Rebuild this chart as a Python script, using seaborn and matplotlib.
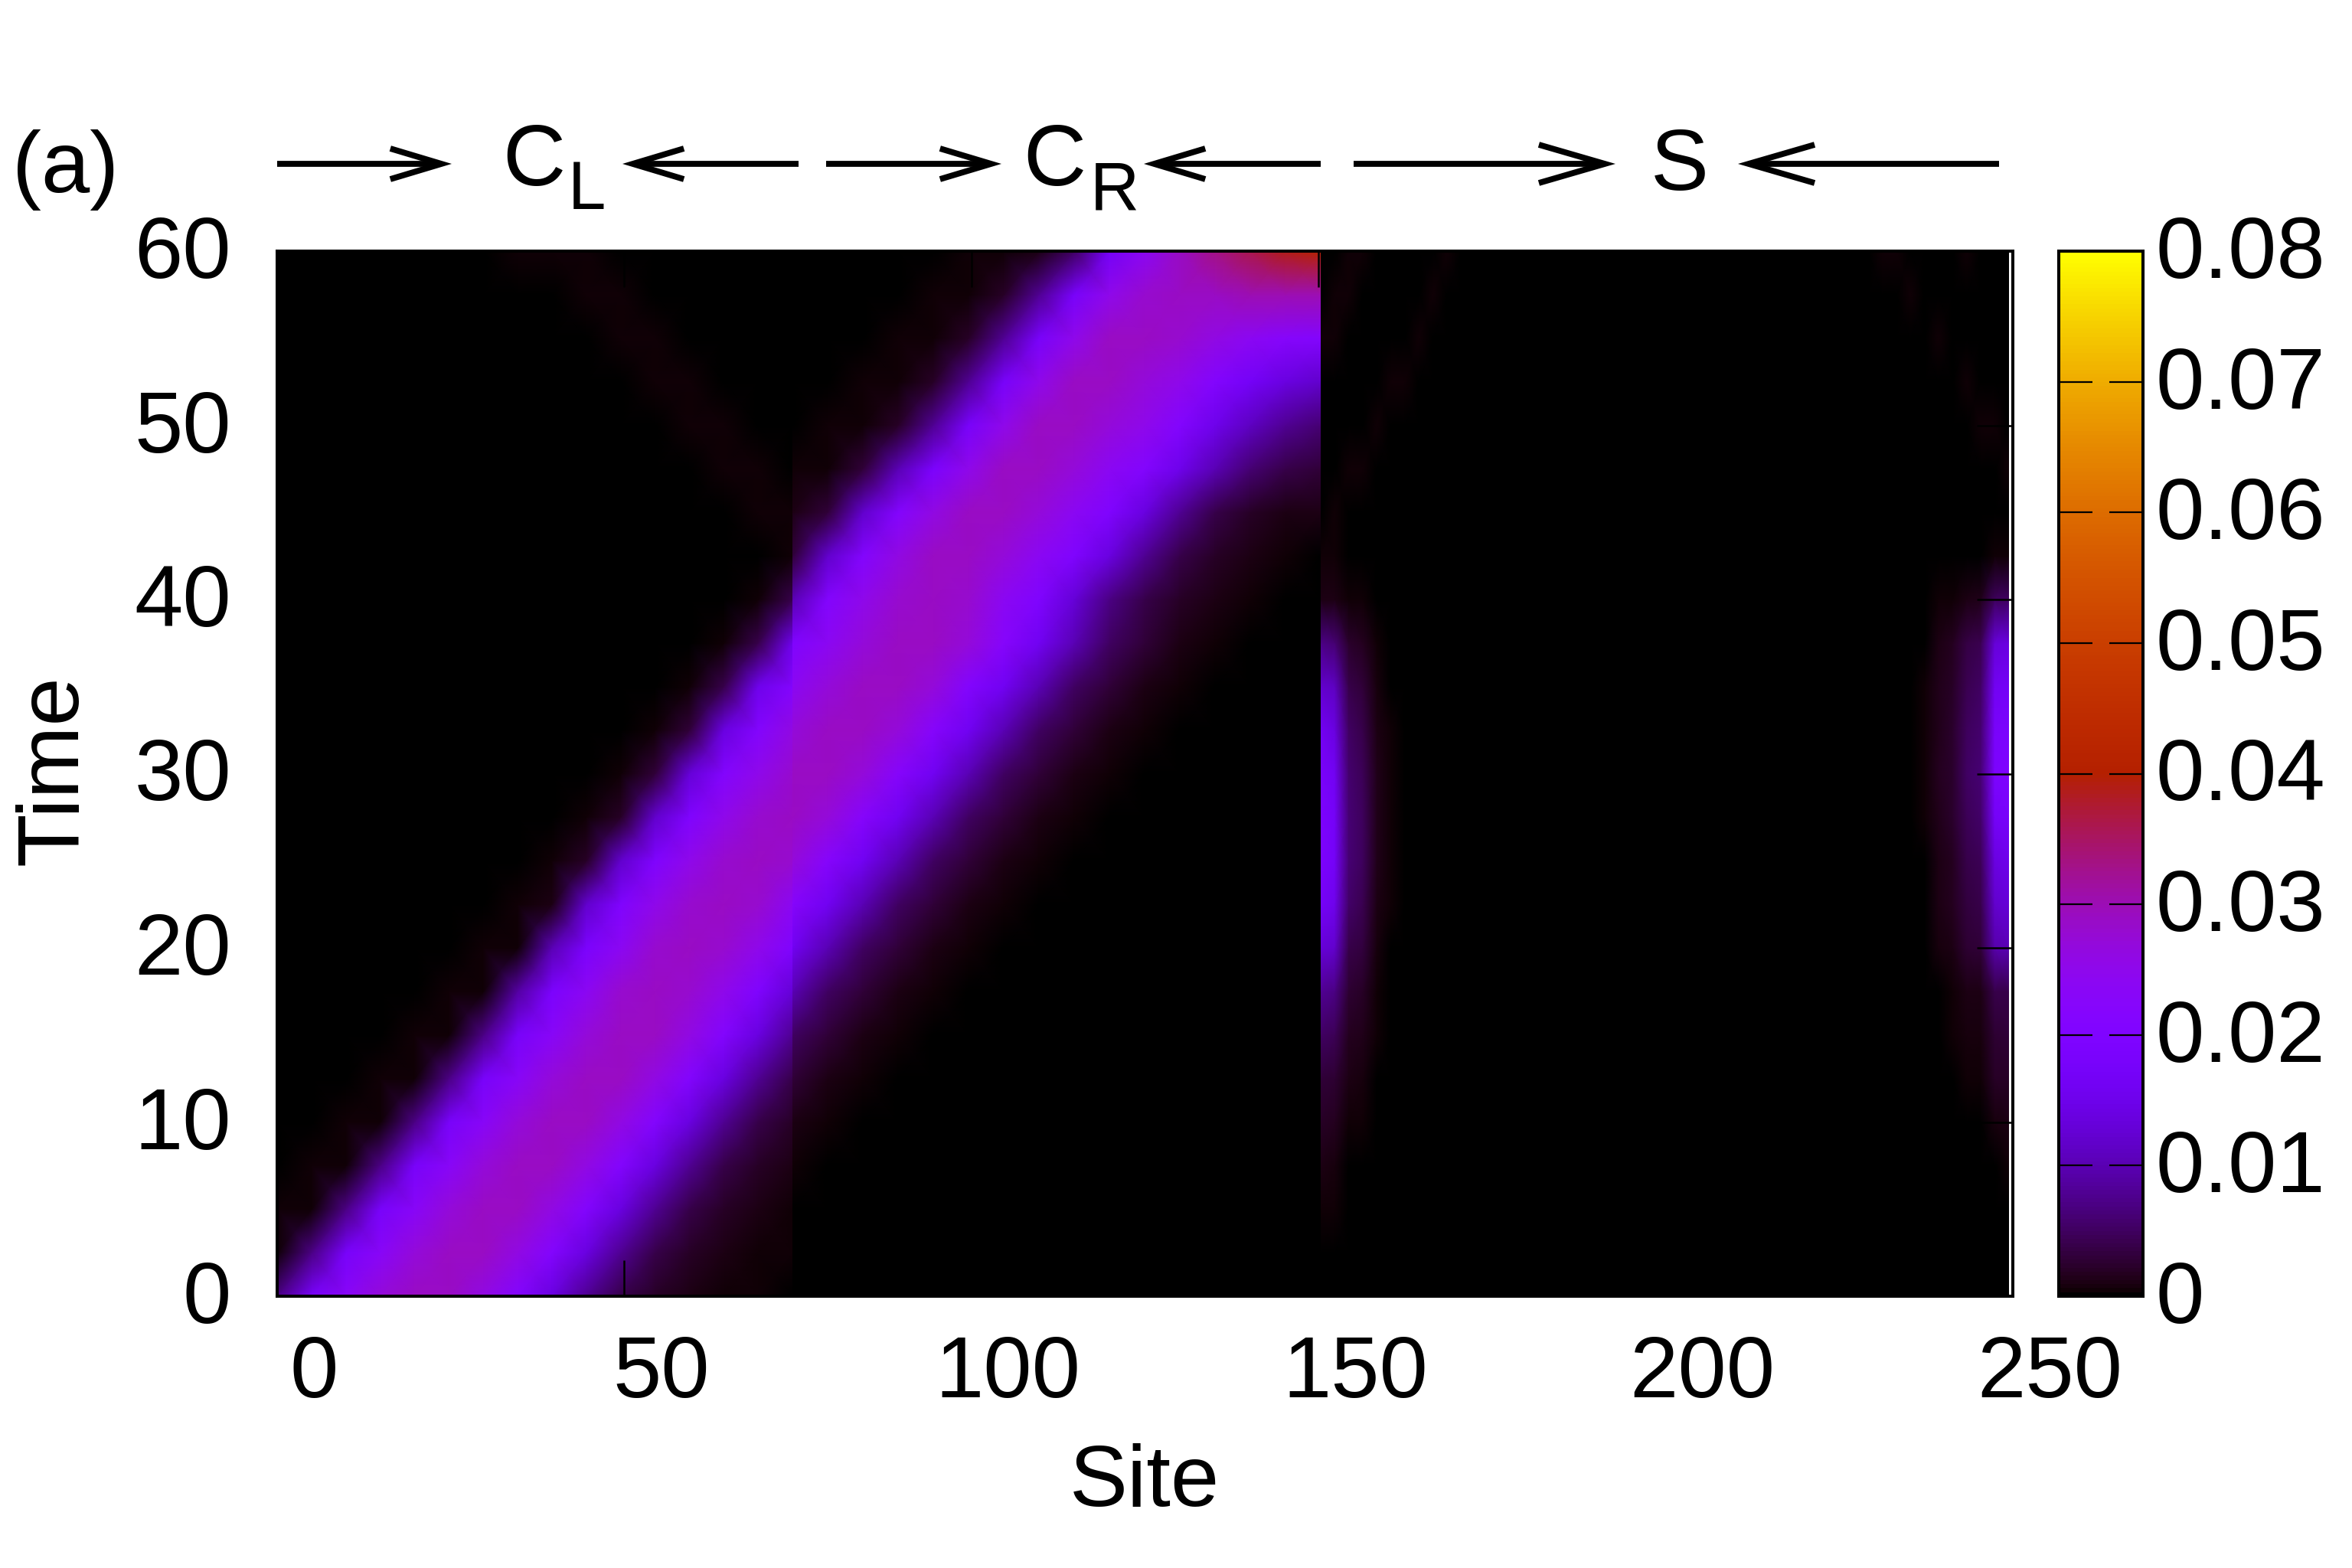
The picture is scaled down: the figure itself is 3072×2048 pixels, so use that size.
import numpy as np
import matplotlib
matplotlib.use('Agg')
import matplotlib.pyplot as plt
from matplotlib.transforms import ScaledTranslation
import seaborn as sns

# values, in units of 0.001, one row per 2.5 time units (t=0 first)
# sites 0 to 74
band_left = [
    [7,18,23,27,29,29,26,21,14,8,4,2,1,.6,.4,.3],
    [.4,7,18,23,27,29,29,26,21,14,8,4,2,1,.6,.4],
    [.6,.4,7,18,23,27,29,29,26,21,14,8,4,2,1,.6],
    [.3,.6,.4,7,18,23,27,29,29,26,21,14,8,4,2,1],
    [0,.3,.6,.4,7,18,23,27,29,29,26,21,14,8,4,2],
    [0,0,.3,.6,.4,7,18,23,27,29,29,26,21,14,8,4],
    [0,0,0,.3,.6,.4,7,18,23,27,29,29,26,21,14,8],
    [0,0,0,0,.3,.6,.5,9,19,24,28,29,28,25,20,13],
    [0,0,0,0,0,.3,.6,.5,10,19,24,28,29,28,25,20],
    [0,0,0,0,0,0,.3,.6,1,12,20,25,28,29,28,24],
    [0,0,0,0,0,0,0,.3,.6,2,12,20,25,28,29,28],
    [0,0,0,0,0,0,0,0,.3,.6,2,12,20,25,28,29],
    [0,0,0,0,0,0,0,0,0,.3,.6,3,13,21,25,28],
    [0,0,0,0,0,0,0,0,0,0,.3,.6,3,14,21,26],
    [0,0,0,0,0,0,0,0,0,0,0,.3,.6,4,15,21],
    [0,0,0,0,0,0,0,0,0,0,0,0,.3,.6,4,15],
    [0,0,0,0,0,0,0,0,0,0,0,0,0,.3,.6,4],
    [0,0,0,0,0,0,0,0,0,0,0,0,0,0,.3,.6],
    [0,0,0,0,0,0,0,0,0,0,0,0,0,0,.4,.6],
    [0,0,0,0,0,0,0,0,0,0,0,0,0,.4,.6,.3],
    [0,0,0,0,0,0,0,0,0,0,0,0,.4,.6,.3,0],
    [0,0,0,0,0,0,0,0,0,0,0,.4,.6,.3,0,0],
    [0,0,0,0,0,0,0,0,0,0,.4,.6,.3,0,0,0],
    [0,0,0,0,0,0,0,0,0,.4,.6,.3,0,0,0,0],
    [0,0,0,0,0,0,0,.4,.6,.6,.3,0,0,0,0,0],
]
# sites 74 to 150
band_mid = [
    [0,0,0,0,0,0,0,0,0,0,0,0,0,0,0,0],
    [.1,0,0,0,0,0,0,0,0,0,0,0,0,0,0,0],
    [.3,.1,0,0,0,0,0,0,0,0,0,0,0,0,0,0],
    [.6,.3,.1,0,0,0,0,0,0,0,0,0,0,0,0,0],
    [1,.6,.3,.1,0,0,0,0,0,0,0,0,0,0,0,0],
    [3,1,.6,.3,.1,0,0,0,0,0,0,0,0,0,0,0],
    [5,3,1,.6,.3,.1,0,0,0,0,0,0,0,0,0,0],
    [10,5,3,1,.6,.3,.1,0,0,0,0,0,0,0,0,0],
    [16,10,5,3,1,.6,.3,.1,0,0,0,0,0,0,0,0],
    [22,16,10,5,3,1,.6,.3,.1,0,0,0,0,0,0,0],
    [27,22,16,10,5,3,1,.6,.3,.1,0,0,0,0,0,0],
    [29,27,22,16,10,5,3,1,.6,.3,.1,0,0,0,0,0],
    [29,29,27,22,16,10,5,3,1,.6,.3,.1,0,0,0,0],
    [27,29,29,27,22,16,10,5,3,1,.6,.3,.1,0,0,0],
    [24,27,29,29,27,21,16,10,5,3,1,.6,.3,.1,0,0],
    [20,24,27,29,29,27,22,16,10,5,3,1,.6,.3,.1,0],
    [10,21,25,28,29,28,24,20,13,7,4,2,1,.6,.3,.1],
    [3,12,21,26,29,29,27,24,20,14,8,4,2,1,.6,.3],
    [1,3,12,21,26,29,29,27,24,20,14,8,4,2,1,1],
    [.6,.4,3,10,19,25,29,29,27,24,21,15,10,6,4,3],
    [.3,.6,.4,2,8,18,25,29,29,27,25,21,15,11,8,6],
    [0,.3,.6,.4,2,8,18,25,29,29,27,25,21,17,14,12],
    [0,0,.3,.6,.4,2,8,18,25,29,29,28,26,24,22,21],
    [0,0,0,.3,.6,.4,2,8,18,25,28,29,29,30,30,30],
    [0,0,0,0,.3,.6,.4,1,5,17,24,29,33,36,39,41],
]
# first 10 columns right of the barrier at site 150, every 2 sites
barrier_near = [
    [0,0,0,0,0,0,0,0,0,0],
    [.3,.2,0,0,0,0,0,0,0,0],
    [.6,.5,0,0,0,0,0,0,0,0],
    [1,.9,.3,.2,0,0,0,0,0,0],
    [2,1.8,.6,.5,.1,0,0,0,0,0],
    [3,2.7,1,.8,.2,0,0,0,0,0],
    [5,4.5,1.6,1.3,.4,0,0,0,0,0],
    [8,7,2.6,2,.6,0,0,0,0,0],
    [13,12,4,3.2,.9,.3,0,0,0,0],
    [17,15,5.4,4.2,1.2,.4,0,0,0,0],
    [19,17,6,4.8,1.3,.5,0,0,0,0],
    [19,17,6,4.8,1.3,.5,0,0,0,0],
    [18,16,5.8,4.5,1.3,.5,0,0,0,0],
    [16,14,5,4,1.1,.4,0,0,0,0],
    [12,11,3.8,3,.8,.3,0,0,0,0],
    [7,6,2.2,1.8,.5,0,0,0,0,0],
    [1,1,.6,.5,0,0,0,0,0,0],
    [.6,.6,.2,0,0,0,0,0,0,0],
    [.3,.6,.3,0,0,0,0,0,0,0],
    [0,.3,.6,.6,.3,0,0,0,0,0],
    [0,0,0,.3,.6,.3,0,0,0,0],
    [.3,0,0,0,.3,.6,.6,.3,0,0],
    [.5,.4,0,0,0,0,.3,.6,.3,0],
    [0,.5,.4,0,0,0,0,.3,.6,.3],
    [0,.3,.6,.5,.3,0,0,0,.3,.6],
]
# last 10 columns before the right end at site 249, every 2 sites
edge_far = [
    [0,0,0,0,0,0,0,0,0,0],
    [0,0,0,0,0,0,0,0,0,0],
    [0,0,0,0,0,0,0,0,0,0],
    [0,0,0,0,0,0,0,0,.3,.4],
    [0,0,0,0,0,.1,.2,.3,.9,1],
    [0,0,0,0,.1,.2,.5,.6,1.9,2],
    [0,0,0,0,.2,.4,.8,.9,2.8,3],
    [0,0,0,0,.3,.5,1,1.2,3.8,4],
    [0,0,0,0,.8,1.2,2.5,3,9.5,10],
    [0,0,0,0,1,1.6,3.2,3.9,12,13],
    [0,0,0,.3,1.2,1.8,3.8,4.5,14,15],
    [0,0,0,.4,1.4,2.2,4.5,5.4,17,18],
    [0,0,0,.4,1.6,2.4,5,6,19,20],
    [0,0,0,.4,1.5,2.3,4.8,5.7,18,19],
    [0,0,0,.4,1.4,2,4.2,5.1,16,17],
    [0,0,0,.3,1.1,1.7,3.5,4.2,13,14],
    [0,0,0,0,.4,.6,1.2,1.5,4.8,5],
    [0,0,0,0,0,0,.2,.3,.6,.6],
    [0,0,0,0,0,0,0,0,0,0],
    [0,0,0,0,0,0,0,0,.3,.6],
    [0,0,0,0,0,0,.3,.6,.6,.2],
    [0,0,0,0,0,.3,.6,.3,0,0],
    [0,0,0,.3,.6,.3,0,0,0,.2],
    [0,.3,.6,.3,0,0,0,.3,.3,.2],
    [.5,.6,.3,0,0,.3,.4,.2,0,0],
]
x_ticks = [0, 50, 100, 150, 200, 250]
y_ticks = [0, 10, 20, 30, 40, 50, 60]
cb_ticks = [0, 0.01, 0.02, 0.03, 0.04, 0.05, 0.06, 0.07, 0.08]
cb_labels = ['0', '0.01', '0.02', '0.03', '0.04', '0.05', '0.06', '0.07', '0.08']

# section edges in sites: the picture has sharp jumps at 74 and 150
step_site = 74.2
barrier_site = 150.3
end_site = 249.4

W, H = 3072, 2048
FS = 41

sns.set_theme(style='ticks')
plt.rcParams['font.family'] = ['Liberation Sans', 'DejaVu Sans']
plt.rcParams['axes.axisbelow'] = False  # ticks stay on top of the colours


def fx(px):
    return px / W


def fy(py):
    return 1 - py / H


fig = plt.figure(figsize=(W / 200, H / 200), dpi=200, facecolor='white')
ax = fig.add_axes([fx(362), fy(1693), fx(2629) - fx(362), fy(328) - fy(1693)])
cax = fig.add_axes([fx(2689), fy(1693), fx(2799) - fx(2689), fy(328) - fy(1693)])

ax.set_facecolor('white')
ax.set_xlim(0, 250)
ax.set_ylim(0, 60)

# right of the barrier: only the two edges carry signal, the middle stays empty
right_part = np.hstack([np.array(barrier_near), np.zeros((25, 30)), np.array(edge_far)])
sections = [
    (0, step_site, np.array(band_left)),
    (step_site, barrier_site, np.array(band_mid)),
    (barrier_site, end_site, right_part),
]

for i, (x0, x1, cells) in enumerate(sections):
    sub = ax.inset_axes([x0, 0, x1 - x0, 60], transform=ax.transData)
    sub.set_zorder(1)
    sns.heatmap(cells * 0.001, ax=sub, cmap='gnuplot', vmin=0, vmax=0.08, shading='gouraud',
                xticklabels=False, yticklabels=False, cbar=(i == 0), cbar_ax=cax if i == 0 else None)
    sub.set_xlim(0, cells.shape[1] - 1)
    sub.set_ylim(0, cells.shape[0] - 1)
    sub.axis('off')

for spine in ax.spines.values():
    spine.set_visible(True)
    spine.set_linewidth(1.45)
    spine.set_color('black')
    spine.set_zorder(10)

ax.set_xticks(x_ticks)
ax.set_yticks(y_ticks)
ax.tick_params(axis='both', which='major', direction='in', length=17, width=0.9, color='black',
               top=True, right=True, labelsize=FS, labelcolor='black')
ax.tick_params(axis='x', pad=18)
ax.tick_params(axis='y', pad=21.5)
ax.xaxis.set_zorder(2.5)
ax.yaxis.set_zorder(2.5)
# the x labels sit right of their ticks in the original, the y labels a little high
shift = ScaledTranslation(48 / 200, 0, fig.dpi_scale_trans)
for lab in ax.get_xticklabels():
    lab.set_transform(lab.get_transform() + shift)
lift = ScaledTranslation(0, 6 / 200, fig.dpi_scale_trans)
for lab in ax.get_yticklabels():
    lab.set_transform(lab.get_transform() + lift)

cax.set_yticks(cb_ticks)
cax.set_yticklabels(cb_labels)
cax.tick_params(axis='y', direction='in', length=16, width=0.8, color='black', left=True, right=True,
                labelleft=False, labelright=True, labelsize=FS, pad=6, labelcolor='black')
cax.yaxis.set_zorder(2.5)
for lab in cax.get_yticklabels():
    lab.set_transform(lab.get_transform() + lift)
for spine in cax.spines.values():
    spine.set_visible(True)
    spine.set_linewidth(1.45)
    spine.set_color('black')
    spine.set_zorder(10)

fig.text(fx(1495), fy(1938), 'Site', fontsize=FS, ha='center', va='center', color='black')
fig.text(fx(72), fy(1006), 'Time', fontsize=FS, ha='center', va='center', rotation=90, color='black')
fig.text(fx(86), fy(222), '(a)', fontsize=FS, ha='center', va='center', color='black')

# region labels with their arrows along the top
fig.text(fx(656), fy(242), 'C', fontsize=FS, ha='left', va='baseline', color='black')
fig.text(fx(742), fy(273), 'L', fontsize=32, ha='left', va='baseline', color='black')
fig.text(fx(1336), fy(242), 'C', fontsize=FS, ha='left', va='baseline', color='black')
fig.text(fx(1424), fy(273), 'R', fontsize=32, ha='left', va='baseline', color='black')
fig.text(fx(2156), fy(248), 'S', fontsize=FS, ha='left', va='baseline', color='black')

arrows = [(362, 590, 24, 7.2), (1043, 813, 24, 7.2), (1079, 1308, 24, 7.2),
          (1725, 1494, 24, 7.2), (1768, 2110, 31, 9), (2611, 2270, 31, 9)]
for start, end, h_len, h_wid in arrows:
    fig.add_artist(matplotlib.patches.FancyArrowPatch(
        (fx(start), fy(214)), (fx(end), fy(214)), transform=fig.transFigure,
        arrowstyle=f'->,head_length={h_len},head_width={h_wid}', mutation_scale=1,
        shrinkA=0, shrinkB=0, lw=2.8, color='black', joinstyle='miter', capstyle='butt'))

fig.savefig('out.png', dpi=200)
